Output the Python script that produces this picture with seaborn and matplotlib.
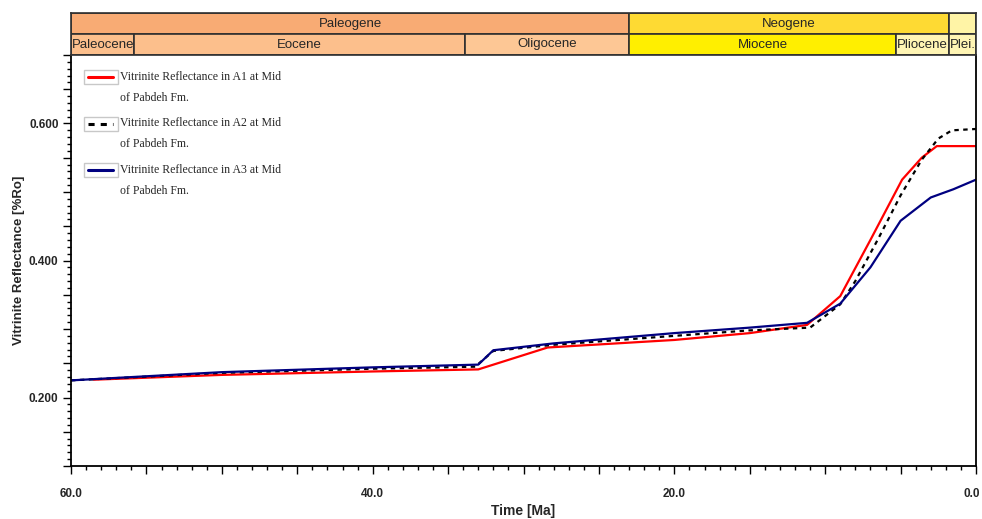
import matplotlib
matplotlib.use("Agg")
import matplotlib.pyplot as plt
from matplotlib.legend_handler import HandlerBase
from matplotlib.lines import Line2D
from matplotlib.patches import Rectangle
from matplotlib.ticker import MultipleLocator, FuncFormatter
from matplotlib.transforms import ScaledTranslation
import numpy as np
import pandas as pd
import seaborn as sns

# --- Burial-history vitrinite reflectance (time in Ma, Ro in %) ---
time_a1 = [58.5, 50.0, 40.0, 33.0, 28.4, 20.0, 15.0, 11.2, 9.0, 7.0, 4.9, 3.6, 2.6, 0.0]
ro_a1 = [0.226, 0.233, 0.238, 0.241, 0.273, 0.284, 0.294, 0.306, 0.348, 0.430, 0.518, 0.550, 0.567, 0.567]

time_a2 = [60.0, 50.0, 40.0, 33.2, 32.0, 28.0, 20.0, 15.0, 11.0, 9.0, 8.0, 6.5, 5.0, 3.6, 2.5, 1.6, 0.0]
ro_a2 = [0.225, 0.236, 0.242, 0.245, 0.268, 0.277, 0.290, 0.298, 0.302, 0.336, 0.370, 0.431, 0.495, 0.547, 0.578, 0.590, 0.592]

time_a3 = [60.0, 50.0, 40.0, 33.0, 32.0, 28.0, 20.0, 15.0, 11.2, 9.0, 7.0, 5.0, 3.0, 1.5, 0.0]
ro_a3 = [0.225, 0.237, 0.244, 0.248, 0.269, 0.279, 0.294, 0.302, 0.309, 0.337, 0.390, 0.458, 0.492, 0.504, 0.518]

series_labels = [
    "Vitrinite Reflectance in A1 at Mid\nof Pabdeh Fm.",
    "Vitrinite Reflectance in A2 at Mid\nof Pabdeh Fm.",
    "Vitrinite Reflectance in A3 at Mid\nof Pabdeh Fm.",
]

# --- Geological time scale bands ---
period_names = ["Paleogene", "Neogene", ""]
period_start = [60.0, 23.0, 1.8]
period_end = [23.0, 1.8, 0.0]
period_colors = ["#F8AB74", "#FEDA33", "#FFF4A6"]

epoch_names = ["Paleocene", "Eocene", "Oligocene", "Miocene", "Pliocene", "Plei."]
epoch_start = [60.0, 55.8, 33.9, 23.0, 5.3, 1.8]
epoch_end = [55.8, 33.9, 23.0, 5.3, 1.8, 0.0]
epoch_colors = ["#FCBF8C", "#FCBF8C", "#FDC795", "#FFEF00", "#FFF5B4", "#FFF5B4"]

sns.set_theme(style="white")
plt.rcParams["font.family"] = ["Liberation Sans Narrow", "Liberation Sans", "DejaVu Sans"]

fig = plt.figure(figsize=(9.82, 5.19), dpi=100)
ax = fig.add_axes([71 / 982, 53 / 519, 905 / 982, 411 / 519])
band = fig.add_axes([71 / 982, 464 / 519, 905 / 982, 42 / 519])

frames = []
for t, v, lab in zip([time_a1, time_a2, time_a3], [ro_a1, ro_a2, ro_a3], series_labels):
    frames.append(pd.DataFrame({"Time": t, "Ro": v, "Series": lab}))
df = pd.concat(frames, ignore_index=True)

palette = {series_labels[0]: "#FF0000", series_labels[1]: "#000000", series_labels[2]: "#000080"}
sns.lineplot(data=df, x="Time", y="Ro", hue="Series", style="Series",
             palette=palette, dashes={series_labels[0]: "", series_labels[1]: (2, 2),
                                      series_labels[2]: ""},
             linewidth=1.6, sort=False, estimator=None, legend=False, ax=ax)

ax.set_xlim(60, 0)
ax.set_ylim(0.1, 0.7)

# axis ticks
ax.xaxis.set_major_locator(MultipleLocator(5))
ax.xaxis.set_minor_locator(MultipleLocator(1))
ax.xaxis.set_major_formatter(FuncFormatter(
    lambda x, p: f"{x:.1f}" if abs(x / 20 - round(x / 20)) < 1e-6 else ""))
ax.yaxis.set_major_locator(MultipleLocator(0.05))
ax.yaxis.set_minor_locator(MultipleLocator(0.01))
ax.yaxis.set_major_formatter(FuncFormatter(
    lambda y, p: f"{y:.3f}" if abs(y / 0.2 - round(y / 0.2)) < 1e-6 else ""))
ax.tick_params(axis="both", which="major", direction="out", length=6, width=1,
               color="black", labelsize=8.5)
ax.tick_params(axis="both", which="minor", direction="out", length=3, width=1, color="black")
ax.tick_params(axis="x", bottom=True, which="both")
ax.tick_params(axis="x", which="major", pad=10)
ax.tick_params(axis="y", left=True, which="both")
ax.tick_params(axis="y", which="major", pad=3)
fig.canvas.draw()
for lab in ax.get_xticklabels() + ax.get_yticklabels():
    lab.set_fontweight("bold")
# keep the right-most time label inside the figure
for tick in ax.xaxis.get_major_ticks():
    if abs(tick.get_loc()) < 1e-9:
        tick.label1.set_transform(tick.label1.get_transform() +
                                  ScaledTranslation(-4 / 100, 0, fig.dpi_scale_trans))

ax.set_xlabel("Time [Ma]", fontsize=10, fontweight="bold", va="center")
ax.xaxis.set_label_coords(0.5, -0.109)
ax.set_ylabel("Vitrinite Reflectance [%Ro]", fontsize=9.5, fontweight="bold", va="center")
ax.yaxis.set_label_coords(-0.057, 0.5)
for side in ["left", "bottom", "right", "top"]:
    ax.spines[side].set_visible(True)
    ax.spines[side].set_color("black")
    ax.spines[side].set_linewidth(1.3)
ax.spines["top"].set_visible(False)


# legend with framed handle boxes aligned to the first text line
class BoxedLine(HandlerBase):
    lift = 7.5  # points

    def create_artists(self, legend, orig_handle, xdescent, ydescent, width, height,
                       fontsize, trans):
        yc = -ydescent + height / 2 + self.lift
        box = Rectangle((-xdescent - 2, yc - 5), width + 4, 10,
                        facecolor="white", edgecolor="#C8C8C8", linewidth=1.0,
                        transform=trans)
        line = Line2D([-xdescent + 1, -xdescent + width - 1], [yc, yc],
                      color=orig_handle.get_color(), lw=orig_handle.get_linewidth(),
                      ls=orig_handle.get_linestyle(), transform=trans)
        if orig_handle.get_linestyle() not in ("-", "solid"):
            line.set_dashes((2, 2))
        return [box, line]


handles = [
    Line2D([], [], color="#FF0000", lw=2.2),
    Line2D([], [], color="#000000", lw=2.2, ls="--"),
    Line2D([], [], color="#000080", lw=2.2),
]
leg = ax.legend(handles, series_labels, loc="upper left", bbox_to_anchor=(0.006, 0.988),
                frameon=False, handlelength=2.35, handletextpad=0.4, labelspacing=1.15,
                prop={"family": ["Liberation Serif", "DejaVu Serif"], "size": 8.5},
                handler_map={Line2D: BoxedLine()})
for txt in leg.get_texts():
    txt.set_linespacing(2.0)

# time-scale bands
band.set_ylim(0, 2)
band.set_xlim(60, 0)
for name, s, e, c in zip(period_names, period_start, period_end, period_colors):
    band.axvspan(s, e, ymin=0.5, ymax=1.0, facecolor=c, edgecolor="#303030", linewidth=1.2)
    if name:
        band.text((s + e) / 2, 1.5, name, ha="center", va="center", fontsize=9.5)
for name, s, e, c in zip(epoch_names, epoch_start, epoch_end, epoch_colors):
    band.axvspan(s, e, ymin=0.0, ymax=0.5, facecolor=c, edgecolor="#303030", linewidth=1.2)
    band.text((s + e) / 2, 0.5, name, ha="center", va="center", fontsize=9.5)
band.set_xticks([])
band.set_yticks([])
for sp in band.spines.values():
    sp.set_color("#303030")
    sp.set_linewidth(1.2)

fig.savefig("out.png", dpi=100)
